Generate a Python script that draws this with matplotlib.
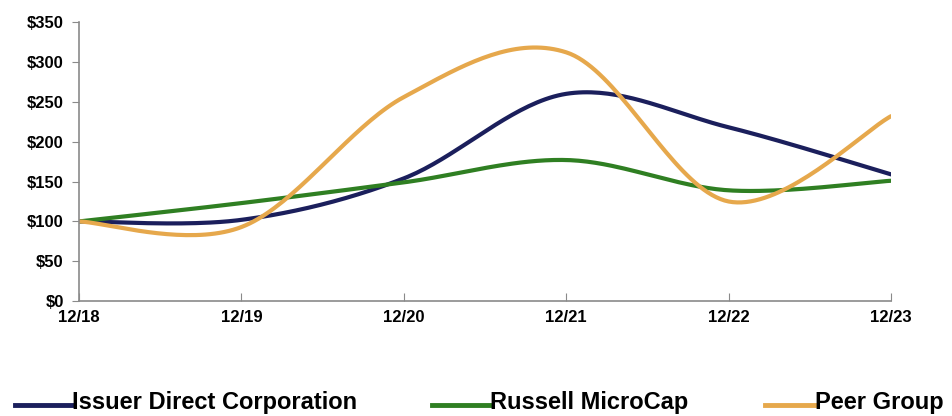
import numpy as np
import matplotlib
matplotlib.use("Agg")
import matplotlib.pyplot as plt
from matplotlib.lines import Line2D

# data
years = ["12/18", "12/19", "12/20", "12/21", "12/22", "12/23"]
issuer = [100, 102, 154, 260, 218, 159]
russell = [100, 123, 149, 177, 139, 151]
peer = [100, 93, 256, 312, 125, 232]

series_names = ["Issuer Direct Corporation", "Russell MicroCap", "Peer Group"]
colors = ["#1b1f5c", "#2f7f22", "#e6a84c"]


def smooth(xs, ys, n=40):
    # Excel-like smoothed line: cubic bezier with catmull-rom control points
    xs = np.asarray(xs, float)
    ys = np.asarray(ys, float)
    px, py = [], []
    for i in range(len(xs) - 1):
        x0, y0 = (xs[i - 1], ys[i - 1]) if i > 0 else (xs[i], ys[i])
        x1, y1 = xs[i], ys[i]
        x2, y2 = xs[i + 1], ys[i + 1]
        x3, y3 = (xs[i + 2], ys[i + 2]) if i + 2 < len(xs) else (x2, y2)
        c1x, c1y = x1 + (x2 - x0) / 6, y1 + (y2 - y0) / 6
        c2x, c2y = x2 - (x3 - x1) / 6, y2 - (y3 - y1) / 6
        t = np.linspace(0, 1, n)
        px.extend((1 - t) ** 3 * x1 + 3 * (1 - t) ** 2 * t * c1x + 3 * (1 - t) * t ** 2 * c2x + t ** 3 * x2)
        py.extend((1 - t) ** 3 * y1 + 3 * (1 - t) ** 2 * t * c1y + 3 * (1 - t) * t ** 2 * c2y + t ** 3 * y2)
    return px, py


plt.rcParams['font.family'] = ['Liberation Sans', 'DejaVu Sans']

W, H = 953, 416
fig = plt.figure(figsize=(W / 100, H / 100), dpi=100)
ax = fig.add_axes([0.083, 0.276, 0.852, 0.671])

x = np.arange(len(years))
for vals, c in zip([issuer, russell, peer], colors):
    sx, sy = smooth(x, vals)
    ax.plot(sx, sy, color=c, lw=3.0, solid_capstyle='round')

ax.set_xlim(0, len(years) - 1)
ax.set_ylim(0, 350)
ax.set_yticks(range(0, 351, 50))
ax.set_yticklabels([f"${v}" for v in range(0, 351, 50)], fontsize=12, fontweight='bold')
ax.set_xticks(x)
ax.set_xticklabels(years, fontsize=12, fontweight='bold')

for s in ['top', 'right']:
    ax.spines[s].set_visible(False)
for s in ['left', 'bottom']:
    ax.spines[s].set_color('#8a8a8a')
    ax.spines[s].set_linewidth(1.2)
ax.tick_params(axis='y', direction='out', length=5, color='#8a8a8a', pad=6)
ax.tick_params(axis='x', direction='in', length=6, color='#8a8a8a', pad=6)

# legend drawn by hand along the bottom edge
legend_pos = [(15, 72), (432, 490), (765, 815)]
ly = 1 - 405 / H
for (x0, x1), name, c in zip(legend_pos, series_names, colors):
    fig.add_artist(Line2D([x0 / W, x1 / W], [ly, ly], color=c, lw=3.5,
                          transform=fig.transFigure))
    fig.text(x1 / W, ly + 0.006, name, fontsize=17, fontweight='bold', va='center', ha='left')

fig.savefig("out.png", dpi=100)
